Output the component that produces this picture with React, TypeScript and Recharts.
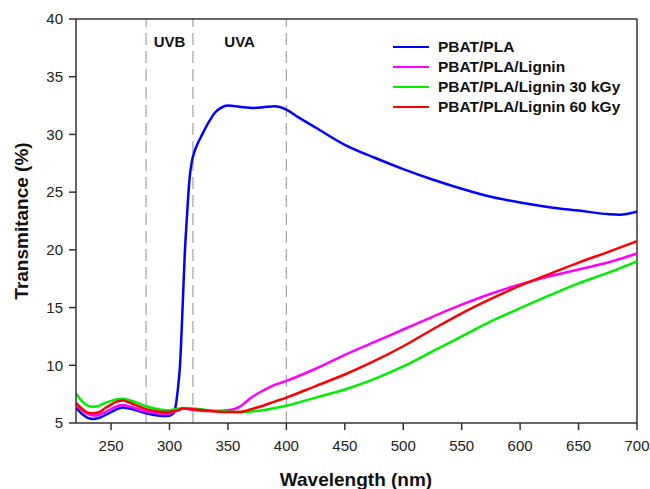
import * as React from "react";
import {
  LineChart,
  Line,
  XAxis,
  YAxis,
  ReferenceLine,
  ReferenceArea,
  Label,
} from "recharts";

// wavelength (nm) for the neat blend, denser around the absorption edge
const blendNm: number[] = [
  220, 225, 230, 235, 240, 250, 260, 270, 280, 290, 298, 303, 305, 307, 309,
  311, 313, 315, 317, 319, 321, 324, 327, 331, 335, 339, 344, 350, 360, 372,
  380, 390, 395, 400, 410, 425, 450, 475, 500, 525, 550, 575, 600, 625, 650,
  675, 685, 700,
];
const blendT: number[] = [
  6.3, 5.8, 5.45, 5.35, 5.45, 5.95, 6.35, 6.15, 5.85, 5.65, 5.6, 5.8, 6.3, 7.8,
  10, 14.5, 19.5, 23, 26, 27.6, 28.4, 29.2, 29.8, 30.6, 31.3, 31.9, 32.3, 32.5,
  32.4, 32.3, 32.35, 32.45, 32.35, 32.15, 31.5, 30.6, 29.1, 28.0, 27.0, 26.1,
  25.3, 24.6, 24.1, 23.7, 23.4, 23.1, 23.05, 23.3,
];

// wavelength (nm) for the lignin films
const ligninNm: number[] = [
  220, 225, 230, 235, 240, 245, 250, 255, 260, 265, 270, 280, 290, 298, 305,
  312, 320, 330, 340, 350, 360, 365, 370, 380, 390, 400, 425, 450, 475, 500,
  525, 550, 575, 600, 625, 650, 675, 700,
];
const ligninT: number[] = [
  6.5, 6.1, 5.8, 5.65, 5.7, 5.95, 6.2, 6.45, 6.55, 6.45, 6.3, 6.0, 5.85, 5.8,
  6.0, 6.25, 6.15, 6.05, 6.05, 6.1, 6.4, 6.8, 7.2, 7.8, 8.3, 8.65, 9.7, 10.9,
  12.0, 13.1, 14.2, 15.25, 16.2, 17.0, 17.7, 18.3, 18.9, 19.7,
];
const lignin30T: number[] = [
  7.55, 6.9, 6.5, 6.4, 6.5, 6.75, 6.9, 7.05, 7.1, 7.0, 6.85, 6.45, 6.2, 6.1,
  6.2, 6.3, 6.25, 6.15, 6.05, 6.0, 5.95, 5.95, 6.0, 6.1, 6.3, 6.5, 7.2, 7.9,
  8.8, 9.9, 11.2, 12.5, 13.8, 14.95, 16.05, 17.1, 18.0, 19.0,
];
const lignin60T: number[] = [
  6.75, 6.25, 5.9, 5.85, 5.95, 6.3, 6.6, 6.85, 6.95, 6.8, 6.6, 6.2, 6.0, 5.95,
  6.05, 6.25, 6.2, 6.1, 6.0, 5.95, 5.95, 6.05, 6.2, 6.5, 6.85, 7.2, 8.2, 9.2,
  10.35, 11.65, 13.1, 14.5, 15.75, 16.9, 17.9, 18.9, 19.8, 20.75,
];

const xTicks: number[] = [250, 300, 350, 400, 450, 500, 550, 600, 650, 700];
const yTicks: number[] = [5, 10, 15, 20, 25, 30, 35, 40];
const bandLines: number[] = [280, 320, 400];

const toRows = (xs: number[], ys: number[]) =>
  xs.map((nm, i) => ({ nm, t: ys[i] }));

const series = [
  { name: "PBAT/PLA", colour: "#0000ff", data: toRows(blendNm, blendT) },
  { name: "PBAT/PLA/Lignin", colour: "#ff00ff", data: toRows(ligninNm, ligninT) },
  { name: "PBAT/PLA/Lignin 30 kGy", colour: "#00ee00", data: toRows(ligninNm, lignin30T) },
  { name: "PBAT/PLA/Lignin 60 kGy", colour: "#ff0000", data: toRows(ligninNm, lignin60T) },
];

const font = "'Liberation Sans', Arial, sans-serif";
const axisColour = "#333";

// legend kept outside the chart so it doesn't eat plot space
const LegendBox = () => (
  <div
    style={{
      position: "absolute",
      left: 393,
      top: 37,
      fontFamily: font,
      fontWeight: "bold",
      fontSize: 15.5,
      color: "#111",
    }}
  >
    {series.map(s => (
      <div key={s.name} style={{ height: 20, lineHeight: "20px", display: "flex", alignItems: "center" }}>
        <span style={{ display: "inline-block", width: 36, height: 2.5, background: s.colour }} />
        <span style={{ marginLeft: 9, whiteSpace: "nowrap" }}>{s.name}</span>
      </div>
    ))}
  </div>
);

const bandLabel = (value: string) => ({
  value,
  position: "insideTop" as const,
  offset: 17,
  fontSize: 15,
  fontWeight: "bold",
  fill: "#111",
});

export default function App() {
  return (
    <div style={{ position: "absolute", left: 0, top: 0, width: 650, height: 489 }}>
      <LineChart
        width={650}
        height={489}
        margin={{ top: 19, right: 13, bottom: 0, left: 0 }}
        style={{ fontFamily: font }}
      >
        <XAxis
          dataKey="nm"
          type="number"
          domain={[220, 700]}
          ticks={xTicks}
          allowDataOverflow
          height={66}
          tickSize={7}
          tickMargin={10}
          stroke={axisColour}
          strokeWidth={1.5}
          tick={{ fill: "#222", fontSize: 15 }}
        >
          <Label
            content={() => (
              <text x={356} y={486} textAnchor="middle" fontSize={19} fontWeight="bold" fill="#111" fontFamily={font}>
                Wavelength (nm)
              </text>
            )}
          />
        </XAxis>
        <YAxis
          type="number"
          domain={[5, 40]}
          ticks={yTicks}
          allowDataOverflow
          width={76}
          tickSize={7}
          tickMargin={6}
          stroke={axisColour}
          strokeWidth={1.5}
          tick={{ fill: "#222", fontSize: 15 }}
        >
          <Label
            content={() => (
              <text
                x={28}
                y={221}
                transform="rotate(-90 28 221)"
                textAnchor="middle"
                fontSize={19}
                fontWeight="bold"
                fill="#111"
                fontFamily={font}
              >
                Transmitance (%)
              </text>
            )}
          />
        </YAxis>

        {bandLines.map(x => (
          <ReferenceLine key={x} x={x} stroke="#aaa" strokeWidth={1.3} strokeDasharray="12 6" />
        ))}
        <ReferenceArea x1={280} x2={320} fillOpacity={0} strokeOpacity={0} label={bandLabel("UVB")} />
        <ReferenceArea x1={320} x2={400} fillOpacity={0} strokeOpacity={0} label={bandLabel("UVA")} />
        <ReferenceLine y={40} stroke={axisColour} strokeWidth={1.5} />
        <ReferenceLine x={700} stroke={axisColour} strokeWidth={1.5} />

        {series.map(s => (
          <Line
            key={s.name}
            data={s.data}
            dataKey="t"
            name={s.name}
            type="monotone"
            stroke={s.colour}
            strokeWidth={2.5}
            dot={false}
            activeDot={false}
            isAnimationActive={false}
          />
        ))}
      </LineChart>
      <LegendBox />
    </div>
  );
}
